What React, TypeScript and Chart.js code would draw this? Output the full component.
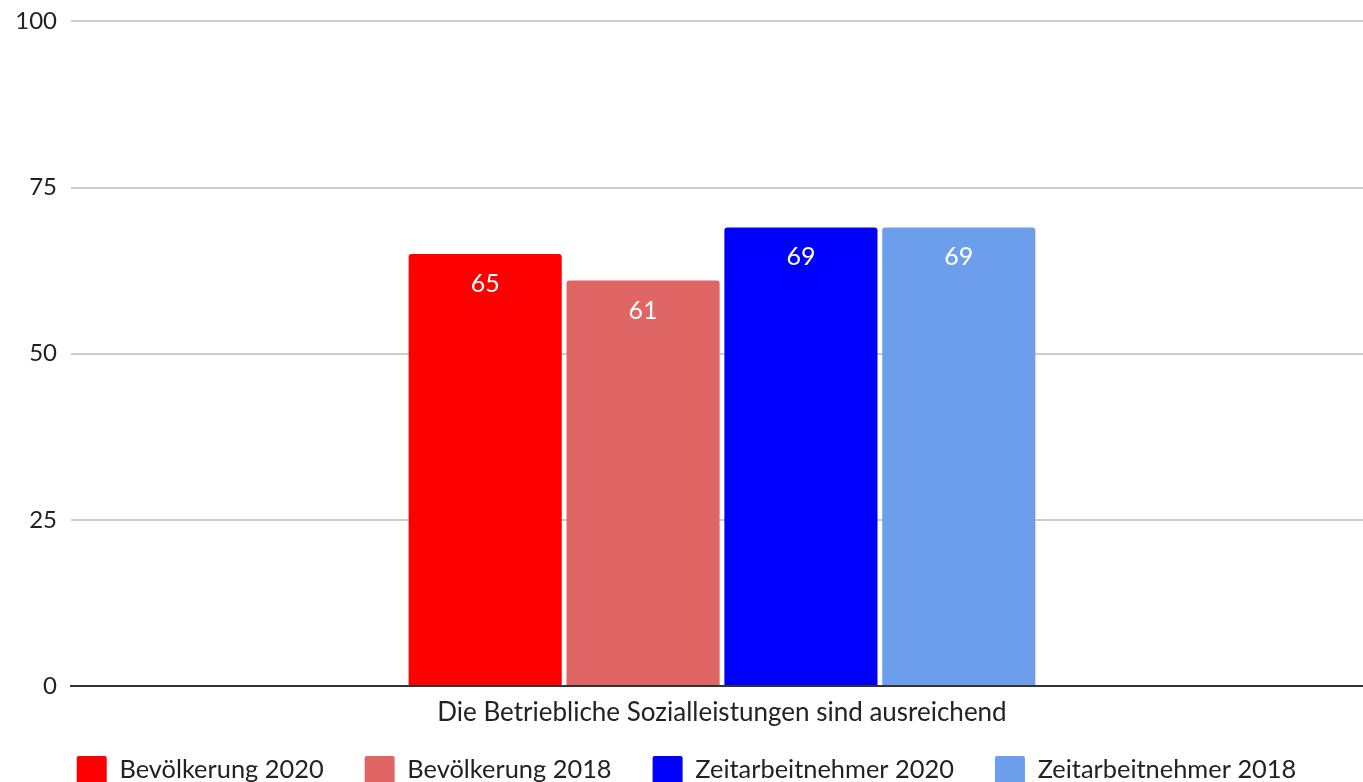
import React, { useEffect, useRef } from "react";
import { Chart, registerables } from "chart.js";

Chart.register(...registerables);

const categories = ["Die Betriebliche Sozialleistungen sind ausreichend"];
const seriesNames = ["Bevölkerung 2020", "Bevölkerung 2018", "Zeitarbeitnehmer 2020", "Zeitarbeitnehmer 2018"];
const bevoelkerung2020 = [65];
const bevoelkerung2018 = [61];
const zeitarbeit2020 = [69];
const zeitarbeit2018 = [69];
const seriesColors = ["#ff0000", "#e06666", "#0000ff", "#6d9eeb"];
const yTicks = [0, 25, 50, 75, 100];

const FONT = "Lato, 'Open Sans', sans-serif";

const valueLabels = {
  id: "valueLabels",
  afterDatasetsDraw(chart: any) {
    const ctx = chart.ctx;
    ctx.save();
    ctx.font = `25px ${FONT}`;
    ctx.fillStyle = "#ffffff";
    ctx.textAlign = "center";
    ctx.textBaseline = "middle";
    chart.data.datasets.forEach((ds: any, i: number) => {
      const meta = chart.getDatasetMeta(i);
      meta.data.forEach((bar: any, j: number) => {
        ctx.fillText(String(ds.data[j]), bar.x, bar.y + 30);
      });
    });
    ctx.restore();
  },
};

const categoryLabels = {
  id: "categoryLabels",
  afterDraw(chart: any) {
    const ctx = chart.ctx;
    const xs = chart.scales.x;
    ctx.save();
    ctx.font = `26px ${FONT}`;
    ctx.fillStyle = "#222";
    ctx.textAlign = "center";
    ctx.textBaseline = "middle";
    (chart.data.labels as string[]).forEach((lab, i) => {
      ctx.fillText(lab, xs.getPixelForValue(i), chart.chartArea.bottom + 27);
    });
    ctx.restore();
  },
};

export default function App() {
  const ref = useRef<HTMLCanvasElement>(null);
  useEffect(() => {
    if (!ref.current) return;
    const all = [bevoelkerung2020, bevoelkerung2018, zeitarbeit2020, zeitarbeit2018];
    const chart = new Chart(ref.current, {
      type: "bar",
      data: {
        labels: categories,
        datasets: all.map((d, i) => ({
          label: seriesNames[i],
          data: d,
          backgroundColor: seriesColors[i],
          borderRadius: { topLeft: 3, topRight: 3, bottomLeft: 0, bottomRight: 0 },
          borderSkipped: false,
          categoryPercentage: 0.485,
          barPercentage: 0.97,
        })),
      },
      options: {
        animation: false,
        responsive: true,
        maintainAspectRatio: false,
        layout: { padding: { top: 2, right: 0, left: 0, bottom: 0 } },
        plugins: {
          tooltip: { enabled: false },
          legend: {
            position: "bottom",
            labels: {
              font: { family: FONT, size: 25.4 },
              color: "#222",
              boxWidth: 30,
              boxHeight: 28,
              padding: 41,
              useBorderRadius: true,
              borderRadius: 2,
            },
          },
        },
        scales: {
          x: {
            grid: { display: false, drawTicks: false },
            border: { display: true, color: "#333333", width: 2 },
            ticks: { display: false },
            afterFit: (axis: any) => {
              axis.height = 29;
            },
          },
          y: {
            min: 0,
            max: 100,
            afterFit: (axis: any) => {
              axis.width = 71;
            },
            afterBuildTicks: (axis: any) => {
              axis.ticks = yTicks.map((v) => ({ value: v }));
            },
            grid: { color: "#cccccc", lineWidth: 2, drawTicks: false },
            border: { display: false },
            ticks: { font: { family: FONT, size: 24 }, color: "#222", padding: 14, stepSize: 25 },
          },
        },
      },
      plugins: [valueLabels, categoryLabels],
    });
    return () => chart.destroy();
  }, []);
  return (
    <div style={{ position: "fixed", left: 0, top: 0, width: 1363, height: 782, overflow: "hidden", background: "#fff" }}>
      <div style={{ position: "absolute", left: 0, top: -7, width: 1373, height: 801 }}>
        <canvas ref={ref} />
      </div>
    </div>
  );
}
